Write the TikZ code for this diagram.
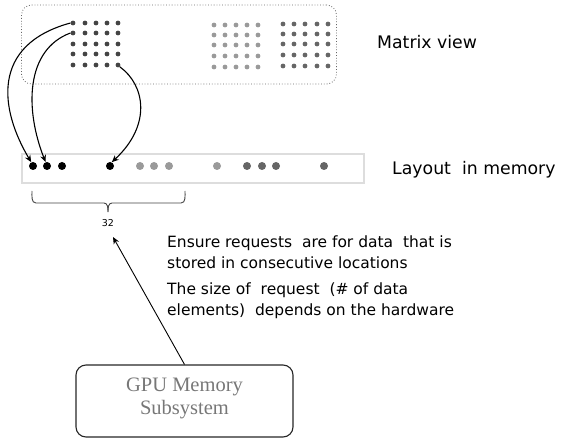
\documentclass[tikz,border=0pt]{standalone}
\usepackage{fontspec}
\setmainfont{DejaVu Sans}
\newfontfamily\gpuserif{Liberation Serif}
\usetikzlibrary{arrows.meta}
\definecolor{dkA}{HTML}{444444}
\definecolor{ltB}{HTML}{9A9A9A}
\definecolor{mdC}{HTML}{666666}
\definecolor{stripC}{HTML}{DDDDDD}
\definecolor{gputxt}{HTML}{777777}
\begin{document}
\begin{tikzpicture}[x=1pt,y=-1pt,
  mdot/.style={circle,inner sep=0pt,minimum size=4.8pt,fill=#1,draw=none},
  ldot/.style={circle,inner sep=0pt,minimum size=8pt,fill=#1,draw=none},
  conn/.style={line width=1.1pt,-{Stealth[length=7pt,width=6pt]}},
  thinconn/.style={line width=0.9pt,-{Stealth[length=7pt,width=6pt]}},
  lbl/.style={anchor=base west,inner sep=0pt,font=\fontsize{17.3}{20}\selectfont},
  note/.style={anchor=base west,inner sep=0pt,align=left,font=\fontsize{15.5}{21}\selectfont},
]
\useasboundingbox (0,0) rectangle (561,438);

% matrix view box
\node[draw=mdC,dotted,line width=0.8pt,rounded corners=10pt,minimum width=315pt,minimum height=79pt,inner sep=0pt] (mbox) at (179,44.5) {};

% matrices
\foreach \c/\x in {1/73,2/85,3/96,4/107,5/118}
  \foreach \r/\y in {1/23,2/33,3/44,4/54,5/65}
    \node[mdot=dkA] (a\r\c) at (\x,\y) {};
\foreach \c/\x in {1/214,2/225,3/236,4/247,5/258}
  \foreach \r/\y in {1/25,2/35,3/45,4/56,5/67}
    \node[mdot=ltB] (b\r\c) at (\x,\y) {};
\foreach \c/\x in {1/283,2/294,3/305,4/317,5/328}
  \foreach \r/\y in {1/24,2/34,3/44,4/55,5/66}
    \node[mdot=mdC] (c\r\c) at (\x,\y) {};

% layout strip
\node[draw=stripC,line width=1.4pt,minimum width=342pt,minimum height=29pt,inner sep=0pt] (strip) at (193,168.5) {};
\foreach \i/\x/\col in {1/33/black,2/47/black,3/62/black,4/110/black,
  5/140/ltB,6/154/ltB,7/169/ltB,8/217/ltB,
  9/247/mdC,10/262/mdC,11/276/mdC,12/324/mdC}
  \node[ldot=\col] (l\i) at (\x,166) {};

% labels
\node[lbl] (mview) at (377,48.5) {Matrix view};
\node[lbl] (lmem) at (392,175) {Layout\ \ in memory};

% brace
\draw[line width=0.9pt,color=dkA] (32,191) to[out=-90,in=180] (36,203) -- (104,203) to[out=0,in=90] (108,212);
\draw[line width=0.9pt,color=dkA] (185,191) to[out=-90,in=0] (181,203) -- (112,203) to[out=180,in=90] (108,212);
\node[anchor=base,inner sep=0pt,font=\fontsize{9.5}{11}\selectfont] (n32) at (108,226.5) {32};

% notes (base anchor = last line)
\node[note] (note1) at (167,268) {Ensure requests\ \ are for data\ \ that is\\stored in consecutive locations};
\node[note] (note2) at (167,315) {The size of\ \ request\ \ (\# of data\\elements)\ \ depends on the hardware};

% GPU box
\node[draw=black!85,line width=1.1pt,rounded corners=10pt,minimum width=217pt,minimum height=72pt,inner sep=0pt] (gpu) at (184.5,401) {};
\node[anchor=base,inner sep=0pt,align=center,text=gputxt,font=\gpuserif\fontsize{20.5}{23}\selectfont] (gputext) at (184.5,414) {GPU Memory\\Subsystem};

% connectors
\coordinate (tip) at (113,237);
\draw[thinconn] (gpu.north) -- (tip);
\draw[conn] (a11.west) .. controls (-10,45) and (0,110) .. (l1.115);
\draw[conn] (a21.west) .. controls (25,50) and (25,110) .. (l2.110);
\draw[conn] (a55.south east) .. controls (145,85) and (152,125) .. (l4.65);
\end{tikzpicture}
\end{document}
